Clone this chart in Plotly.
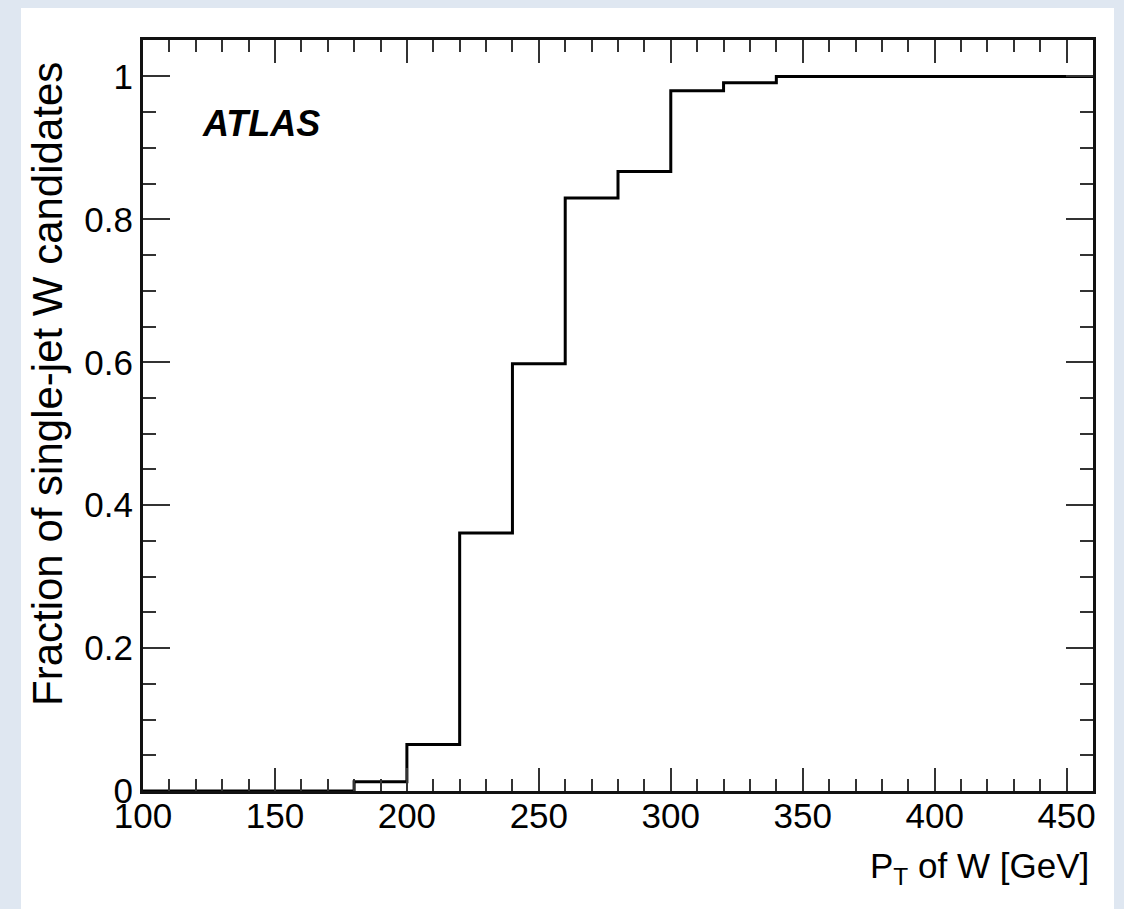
import plotly.graph_objects as go

bin_edges = [100, 120, 140, 160, 180, 200, 220, 240, 260, 280, 300, 320, 340, 360, 380, 400, 420, 440, 460]
fractions = [0.0, 0.0, 0.0, 0.0, 0.013, 0.065, 0.361, 0.598, 0.830, 0.867, 0.980, 0.991, 1.0, 1.0, 1.0, 1.0, 1.0, 1.0]
x_ticks = [100, 150, 200, 250, 300, 350, 400, 450]
y_ticks = [0, 0.2, 0.4, 0.6, 0.8, 1]
y_tick_text = ["0", "0.2", "0.4", "0.6", "0.8", "1"]

FONT = "Liberation Sans, Arial, Helvetica, sans-serif"

fig = go.Figure()
fig.add_trace(go.Scatter(
    x=bin_edges,
    y=fractions + [fractions[-1]],
    mode="lines",
    line=dict(shape="hv", color="black", width=3),
    showlegend=False,
    hoverinfo="skip",
))

axis_common = dict(
    showline=True, linecolor="#111111", linewidth=3, mirror="ticks",
    ticks="inside", tickcolor="#333333", tickwidth=2,
    showgrid=False, zeroline=False,
    tickfont=dict(family=FONT, size=35, color="black"),
)

fig.update_xaxes(
    range=[100, 460], tickvals=x_ticks, ticklen=23, ticklabelstandoff=-8,
    minor=dict(dtick=10, tick0=100, ticks="inside", ticklen=12, tickcolor="#333333", tickwidth=2, showgrid=False),
    **axis_common,
)
fig.update_yaxes(
    range=[0, 1.051], tickvals=y_ticks, ticktext=y_tick_text, ticklen=27,
    minor=dict(dtick=0.05, tick0=0, ticks="inside", ticklen=13, tickcolor="#333333", tickwidth=2, showgrid=False),
    **axis_common,
)

fig.update_layout(
    width=1124, height=909,
    margin=dict(l=143, r=31, t=40, b=118),
    paper_bgcolor="#dfe7f1",
    plot_bgcolor="white",
    shapes=[dict(type="rect", xref="paper", yref="paper", layer="below",
                 x0=(21 - 143) / 950, x1=(1114 - 143) / 950,
                 y0=(791 - 915) / 751, y1=(791 - 8) / 751,
                 fillcolor="white", line=dict(width=0))],
    annotations=[
        dict(text="<b><i>ATLAS</i></b>", xref="paper", yref="paper",
             x=(200 - 143) / 950, y=(791 - 123) / 751, xanchor="left", yanchor="middle",
             showarrow=False, font=dict(family=FONT, size=36, color="black")),
        dict(text="Fraction of single-jet W candidates", xref="paper", yref="paper",
             x=(47 - 143) / 950, y=(791 - 60) / 751, xanchor="center", yanchor="top",
             textangle=-90, showarrow=False, font=dict(family=FONT, size=42, color="black")),
        dict(text="P<sub>T</sub> of W [GeV]", xref="paper", yref="paper",
             x=(1091 - 143) / 950, y=(791 - 868) / 751, xanchor="right", yanchor="middle",
             showarrow=False, font=dict(family=FONT, size=35, color="black")),
    ],
)

fig.write_html("out.html")
